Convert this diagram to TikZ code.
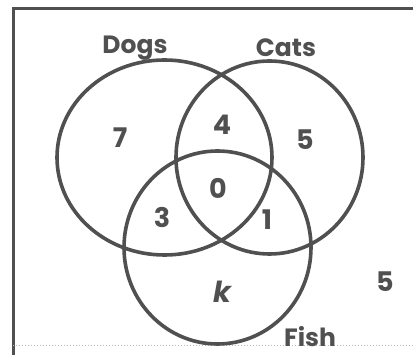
\documentclass[tikz,border=0pt]{standalone}
\usepackage{fontspec}
\setmainfont{Poppins}
\usetikzlibrary{shapes.geometric}
\definecolor{ink}{HTML}{505050}
\begin{document}
\begin{tikzpicture}[x=1pt,y=-1pt,
  setline/.style={draw=ink,line width=3.6pt},
  lbl/.style={text=ink,font=\fontsize{25}{25}\selectfont\bfseries,inner sep=0pt},
  num/.style={text=ink,font=\fontsize{27}{27}\selectfont\bfseries,inner sep=0pt}]
\useasboundingbox (0,0) rectangle (413,355);
\fill[white] (0,0) rectangle (413,355);
% frame
\coordinate (tl) at (13,9);
\coordinate (tr) at (413,9);
\coordinate (bl) at (13,355);
\coordinate (bl2) at (13,346);
\coordinate (br) at (413,346);
\draw[ink,line width=3pt] (bl) -- (tl) -- (tr);
\draw[ink!40,line width=1pt,dotted] (bl2) -- (br);
% sets
\node[setline,ellipse,minimum width=215pt,minimum height=195pt,inner sep=0pt] (dogs) at (164.5,157.5) {};
\node[setline,ellipse,minimum width=187pt,minimum height=193pt,inner sep=0pt] (cats) at (269.5,157.5) {};
\node[setline,ellipse,minimum width=187pt,minimum height=193pt,inner sep=0pt] (fish) at (217.5,247.5) {};
% labels
\node[lbl] (ldogs) at (135,48) {\vphantom{D}Dogs};
\node[lbl] (lcats) at (286,48) {\vphantom{D}Cats};
\node[lbl] (lfish) at (310,337) {\vphantom{D}Fish};
% numbers
\node[num] (n7) at (120,138) {7};
\node[num] (n4) at (222,125) {4};
\node[num] (n5a) at (305,140) {5};
\node[num] (n0) at (218,188) {0};
\node[num] (n3) at (162,217) {3};
\node[num] (n1) at (267,220) {1};
\node[num,font=\fontsize{29}{29}\selectfont\bfseries\itshape] (nk) at (222,292) {k};
\node[num] (n5b) at (385,282) {5};
\end{tikzpicture}
\end{document}
